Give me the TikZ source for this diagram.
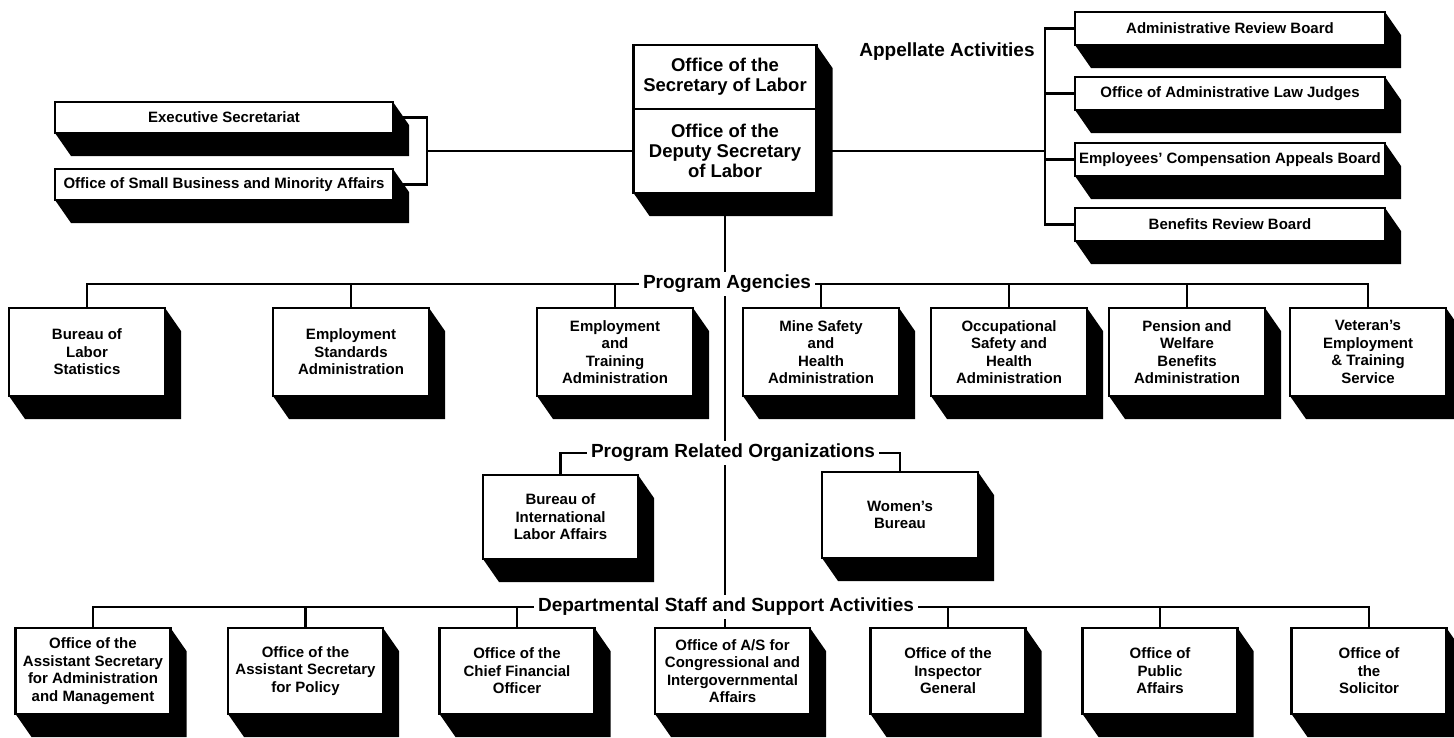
\documentclass[tikz,border=0pt]{standalone}
\usepackage{fontspec}
\setmainfont{Liberation Sans}
\usetikzlibrary{positioning, backgrounds}

\newcommand\orgboxfont{\bfseries\fontsize{15}{17.5}\selectfont}
\newcommand\orgtopfont{\bfseries\fontsize{18.5}{20}\selectfont}
\newcommand\orgheadfont{\bfseries\fontsize{19}{22}\selectfont}

\begin{document}
\begin{tikzpicture}[x=1pt, y=-1pt, line width=2.2pt,
    box/.style={draw, fill=white, line width=2.4pt, outer sep=0pt, inner sep=1pt, minimum width=156pt, minimum height=88pt, align=center, font=\orgboxfont},
    wide/.style={box, minimum width=310pt, minimum height=33pt},
    dept/.style={box, minimum width=155pt, minimum height=86pt},
    head/.style={fill=white, inner sep=3pt, font=\orgheadfont}]

    \useasboundingbox (0,0) rectangle (1454,737);

    % office of the secretary
    \node[box, minimum width=183pt, minimum height=64pt, font=\orgtopfont] (secy) at (725,77) {Office of the\\Secretary of Labor};
    \node[box, minimum width=183pt, minimum height=84pt, font=\orgtopfont] (dep) at (725,151) {Office of the\\Deputy Secretary\\of Labor};

    \node[box, minimum width=338pt, minimum height=31pt] (exsec) at (224,117.5) {Executive Secretariat};
    \node[box, minimum width=338pt, minimum height=31pt] (osbma) at (224,184.5) {Office of Small Business and Minority Affairs};

    % appellate activities
    \node[font=\orgheadfont] (app) at (947,52) {Appellate Activities};
    \node[wide] (arb) at (1230,28.5) {Administrative Review Board};
    \node[wide] (oalj) at (1230,93.5) {Office of Administrative Law Judges};
    \node[wide] (ecab) at (1230,159.5) {Employees' Compensation Appeals Board};
    \node[wide] (brb) at (1230,224.5) {Benefits Review Board};

    % program agencies
    \node[box] (bls) at (87,352) {Bureau of\\Labor\\Statistics};
    \node[box] (esa) at (351,352) {Employment\\Standards\\Administration};
    \node[box] (eta) at (615,352) {Employment\\and\\Training\\Administration};
    \node[box] (msha) at (821,352) {Mine Safety\\and\\Health\\Administration};
    \node[box] (osha) at (1009,352) {Occupational\\Safety and\\Health\\Administration};
    \node[box] (pwba) at (1187,352) {Pension and\\Welfare\\Benefits\\Administration};
    \node[box] (vets) at (1368,352) {Veteran's\\Employment\\\& Training\\Service};

    % program related organizations
    \node[box, minimum width=155pt, minimum height=84pt] (ilab) at (560.5,517) {Bureau of\\International\\Labor Affairs};
    \node[box, minimum width=156pt, minimum height=86pt] (wb) at (900,515) {Women's\\Bureau};

    % departmental staff
    \node[dept] (asam) at (93,671) {Office of the\\Assistant Secretary\\for Administration\\and Management};
    \node[dept] (asp) at (305.5,671) {Office of the\\Assistant Secretary\\for Policy};
    \node[dept] (cfo) at (517,671) {Office of the\\Chief Financial\\Officer};
    \node[dept] (csia) at (732.5,671) {Office of A/S for\\Congressional and\\Intergovernmental\\Affairs};
    \node[dept] (ig) at (948,671) {Office of the\\Inspector\\General};
    \node[dept] (opa) at (1160,671) {Office of\\Public\\Affairs};
    \node[dept] (sol) at (1369,671) {Office of\\the\\Solicitor};

    % shadows
    \foreach \t/\b in {secy/dep, exsec/exsec, osbma/osbma, arb/arb, oalj/oalj, ecab/ecab, brb/brb,
        bls/bls, esa/esa, eta/eta, msha/msha, osha/osha, pwba/pwba, vets/vets, ilab/ilab, wb/wb,
        asam/asam, asp/asp, cfo/cfo, csia/csia, ig/ig, opa/opa, sol/sol}
        \fill (\t.north east) -- ++(16,23) -- ([shift={(16,23)}]\b.south east)
            -- ([shift={(16,23)}]\b.south west) -- (\b.south west) -- (\b.south east) -- cycle;

    % side branches
    \coordinate (lbr) at (427,151);
    \coordinate (rbr) at (1045,151);
    \draw (exsec.east) -| (lbr) |- (osbma.east);
    \draw (lbr) -- (dep.west);
    \draw (dep.east) -- (rbr);
    \foreach \n in {arb, oalj, ecab, brb}
        \draw (\n.west) -| (rbr);

    % trunk
    \begin{scope}[on background layer]
        \draw[line width=2.2pt] (dep.south) -- (dep.south |- csia.north);
    \end{scope}

    \node[head] (pa) at (727,284) {Program Agencies};
    \draw (bls.north) |- (pa.west);
    \draw (pa.east) -| (vets.north);
    \foreach \n in {esa, eta, msha, osha, pwba}
        \draw (\n.north) -- (\n.north |- pa);

    \node[head] (pro) at (733,453) {Program Related Organizations};
    \draw (ilab.north) |- (pro.west);
    \draw (pro.east) -| (wb.north);

    \node[head] (dsa) at (726,607) {Departmental Staff and Support Activities};
    \draw (asam.north) |- (dsa.west);
    \draw (dsa.east) -| (sol.north);
    \foreach \n in {asp, cfo, ig, opa}
        \draw (\n.north) -- (\n.north |- dsa);
\end{tikzpicture}
\end{document}
